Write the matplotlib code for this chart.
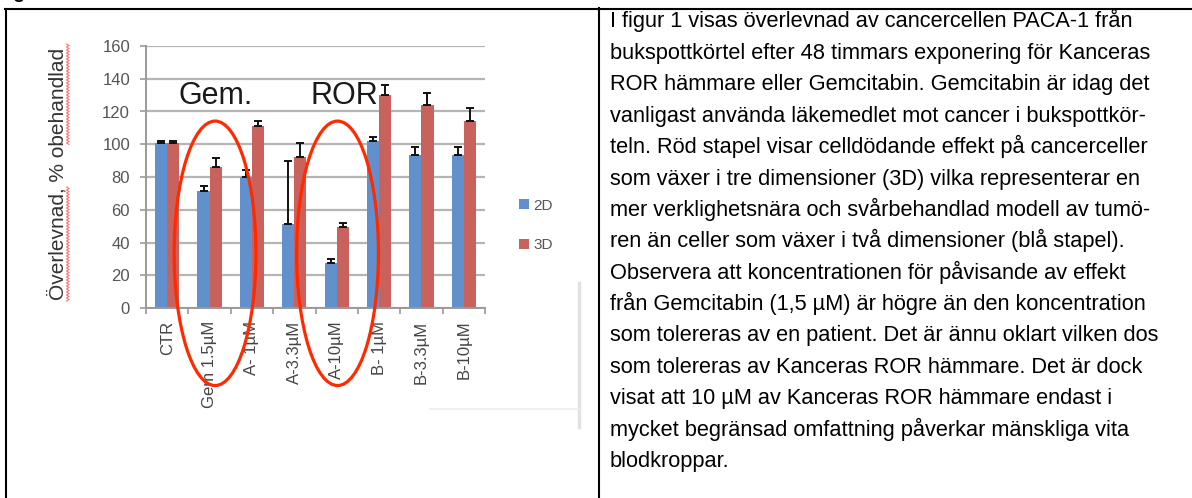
import numpy as np
import matplotlib
matplotlib.use("Agg")
import matplotlib.pyplot as plt
from matplotlib.patches import Ellipse
from matplotlib.lines import Line2D

plt.rcParams['font.family'] = ['Liberation Sans', 'DejaVu Sans']

# chart data
categories = ["CTR", "Gem 1.5µM", "A- 1µM", "A-3.3µM", "A-10µM", "B- 1µM", "B-3.3µM", "B-10µM"]
vals_2d = [101, 71.5, 80, 51, 27.5, 102, 93.5, 93.5]
err_2d = [1, 3, 4, 39, 2.5, 2.5, 5, 5]
vals_3d = [101, 86, 111, 92, 49.5, 130, 124, 114]
err_3d = [1, 5.5, 3, 9, 2.5, 6, 7.5, 8]
series_labels = ["2D", "3D"]
y_ticks = [0, 20, 40, 60, 80, 100, 120, 140, 160]
ylabel = "Överlevnad, % obehandlad"

body_lines = [
    "I figur 1 visas överlevnad av cancercellen PACA-1 från",
    "bukspottkörtel efter 48 timmars exponering för Kanceras",
    "ROR hämmare eller Gemcitabin. Gemcitabin är idag det",
    "vanligast använda läkemedlet mot cancer i bukspottkör-",
    "teln. Röd stapel visar celldödande effekt på cancerceller",
    "som växer i tre dimensioner (3D) vilka representerar en",
    "mer verklighetsnära och svårbehandlad modell av tumö-",
    "ren än celler som växer i två dimensioner (blå stapel).",
    "Observera att koncentrationen för påvisande av effekt",
    "från Gemcitabin (1,5 µM) är högre än den koncentration",
    "som tolereras av en patient. Det är ännu oklart vilken dos",
    "som tolereras av Kanceras ROR hämmare. Det är dock",
    "visat att 10 µM av Kanceras ROR hämmare endast i",
    "mycket begränsad omfattning påverkar mänskliga vita",
    "blodkroppar.",
]

W, H = 1192, 498
fig = plt.figure(figsize=(W / 100, H / 100), dpi=100)


def fx(x):
    return x / W


def fy(y):
    return 1 - y / H


blue = '#6190cc'
red = '#c9615d'
grey_txt = '#555555'

ax = fig.add_axes([fx(146), fy(308), fx(485) - fx(146), fy(46) - fy(308)])
x = np.arange(len(categories))
bw = 0.285
b2 = ax.bar(x - bw / 2, vals_2d, bw, color=blue, zorder=2, label=series_labels[0])
b3 = ax.bar(x + bw / 2, vals_3d, bw, color=red, zorder=2, label=series_labels[1])
ax.errorbar(x - bw / 2, vals_2d, yerr=[np.zeros(len(x)), err_2d], fmt='none',
            ecolor='#111111', elinewidth=1.4, capsize=3, capthick=1.4, zorder=3)
ax.errorbar(x + bw / 2, vals_3d, yerr=[np.zeros(len(x)), err_3d], fmt='none',
            ecolor='#111111', elinewidth=1.4, capsize=3, capthick=1.4, zorder=3)

ax.set_xlim(-0.5, len(categories) - 0.5)
ax.set_ylim(0, 160)
ax.set_yticks(y_ticks)
ax.yaxis.grid(True, color='#b5b5b5', linewidth=1.6, zorder=0)
ax.set_axisbelow(True)
for s in ['top', 'right']:
    ax.spines[s].set_visible(False)
for s in ['left', 'bottom']:
    ax.spines[s].set_color('#9a9a9a')
    ax.spines[s].set_linewidth(1.4)
ax.tick_params(axis='y', length=4.5, width=1.2, color='#9a9a9a', labelsize=12,
               labelcolor=grey_txt, pad=7)
ax.set_xticks(x)
ax.set_xticklabels(categories, rotation=90, fontsize=12, color='#444444')
ax.set_xticks(np.arange(len(categories) + 1) - 0.5, minor=True)
ax.tick_params(axis='x', which='major', length=0, pad=9)
ax.tick_params(axis='x', which='minor', length=4.5, width=1.2, color='#9a9a9a')

# group labels and red rings
ax.text(0.26, 124.5, "Gem.", fontsize=22, color='#1a1a1a', va='baseline', zorder=4)
ax.text(3.38, 124.5, "ROR", fontsize=22, color='#1a1a1a', va='baseline', zorder=4)
for cat, dx in [(1, 0.13), (4, 0.02)]:
    ax.add_patch(Ellipse((cat + dx, 33.4), 1.93, 161.5, fill=False, edgecolor='#ff2a00',
                         linewidth=2.3, clip_on=False, zorder=5))

leg = ax.legend(handles=[b2, b3], loc='center left', bbox_to_anchor=(fx(519), fy(225.5)),
                bbox_transform=fig.transFigure, frameon=False, fontsize=11,
                handlelength=0.65, handleheight=0.65, handletextpad=0.3,
                labelspacing=1.7, borderpad=0, borderaxespad=0)
for t in leg.get_texts():
    t.set_color(grey_txt)

# y axis title with spell-check squiggle
fig.text(fx(58), fy(174), ylabel, rotation=90, fontsize=15, color='#333333',
         ha='center', va='center')
for y0, y1 in [(187, 302), (44, 146)]:
    yy = np.arange(y0, y1, 1.5)
    xx = np.where(np.arange(len(yy)) % 2 == 0, 66.5, 69.0)
    fig.add_artist(Line2D(fx(xx), fy(yy), color='#ff7070', linewidth=0.8))

# faint frame remnant of the pasted chart picture
fig.add_artist(Line2D([fx(579), fx(579)], [fy(283), fy(427)], color='#e2e2e2', linewidth=2.5))
fig.add_artist(Line2D([fx(430), fx(579)], [fy(409), fy(409)], color='#ececec', linewidth=1.2))

# table borders
fig.add_artist(Line2D([fx(6), fx(6)], [fy(9), fy(498)], color='black', linewidth=1.5))
fig.add_artist(Line2D([fx(5), fx(1192)], [fy(9), fy(9)], color='black', linewidth=1.5))
fig.add_artist(Line2D([fx(599), fx(599)], [fy(8), fy(498)], color='black', linewidth=1.5))

# cropped caption above the table (only the descender shows, as in the source)
fig.text(fx(-4), fy(-1.5), "Figur 1", fontsize=14, fontweight='bold', color='black',
         va='baseline', ha='left')

# body text in the right cell
for i, line in enumerate(body_lines):
    fig.text(fx(610), fy(27.5 + i * 31.4), line, fontsize=15.7, color='black',
             va='baseline', ha='left')

fig.savefig('out.png', dpi=100)
